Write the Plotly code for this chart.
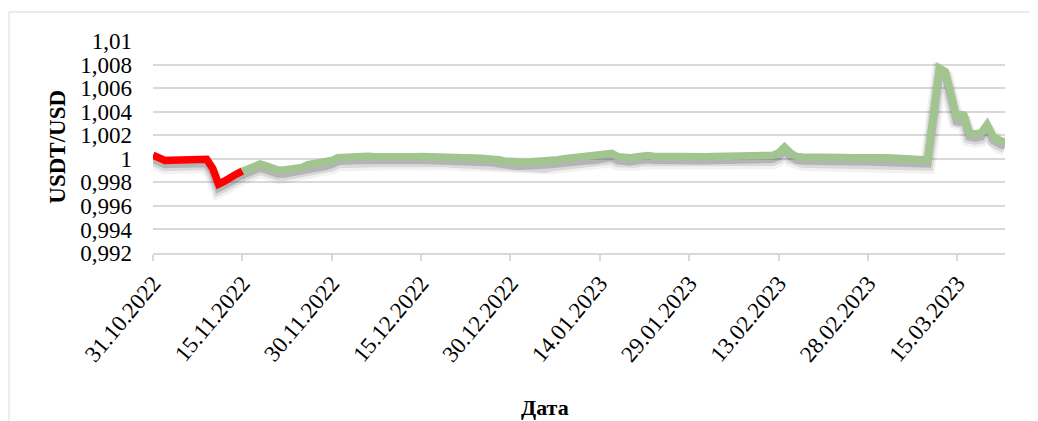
import pandas as pd
import plotly.graph_objects as go

start_date = "2022-10-31"
end_date = "2023-03-23"

red_values = [1.0003, 1.0000, 0.99985, 0.99988, 0.9999, 0.99995, 1.0000, 1.0000,
              1.0000, 0.99995, 0.9992, 0.99785, 0.9981, 0.99845, 0.9987, 0.99895]

green_values = [
    0.99895, 0.9992, 0.99935, 0.99955, 0.9994, 0.99915, 0.99905, 0.99905, 0.99912, 0.9992,
    0.99927, 0.9995, 0.99955, 0.9996, 0.9997, 0.99985, 1.0001, 1.00015, 1.0002, 1.0002,
    1.00025, 1.00022, 1.0002, 1.00018, 1.0002, 1.0002, 1.00015, 1.00018, 1.0002, 1.00017,
    1.0002, 1.0002, 1.00019, 1.00022, 1.0002, 1.00015, 1.00012, 1.0001, 1.00008, 1.00007,
    1.00005, 1.00003, 1.0, 0.99992, 0.9998, 0.99972, 0.9997, 0.9997, 0.99972, 0.99975,
    0.99972, 0.9997, 0.99985, 0.99992, 1.0, 1.00005, 1.0001, 1.00012, 1.00018, 1.0002,
    1.00025, 1.0003, 1.00045, 1.00018, 1.0001, 1.00008, 1.00015, 1.00027, 1.00027, 1.00022,
    1.0002, 1.00018, 1.0002, 1.00013, 1.00015, 1.0002, 1.00015, 1.0002, 1.00018, 1.0002,
    1.0002, 1.00022, 1.0002, 1.0002, 1.00022, 1.0002, 1.0002, 1.00022, 1.00025, 1.0003,
    1.0005, 1.0010, 1.0005, 1.0002, 1.00015, 1.00012, 1.0001, 1.0001, 1.00012, 1.0001,
    1.00008, 1.0001, 1.00008, 1.0001, 1.00008, 1.0001, 1.00008, 1.0001, 1.00008, 1.00006,
    1.00005, 1.00005, 1.0, 0.99995, 0.99992, 0.9999, 1.0038, 1.0077, 1.0074, 1.0055,
    1.0033, 1.0039, 1.0022, 1.0021, 1.0022, 1.0029, 1.0019, 1.0016, 1.0014,
]

x_tick_labels = ["31.10.2022", "15.11.2022", "30.11.2022", "15.12.2022", "30.12.2022",
                 "14.01.2023", "29.01.2023", "13.02.2023", "28.02.2023", "15.03.2023"]
y_tick_values = [0.992, 0.994, 0.996, 0.998, 1.0, 1.002, 1.004, 1.006, 1.008, 1.01]
y_tick_labels = ["0,992", "0,994", "0,996", "0,998", "1", "1,002", "1,004", "1,006", "1,008", "1,01"]

all_dates = pd.date_range(start_date, end_date, freq="D")
red_dates = all_dates[:len(red_values)]
green_dates = all_dates[len(red_values) - 1:len(red_values) - 1 + len(green_values)]
x_tick_dates = pd.to_datetime(x_tick_labels, format="%d.%m.%Y")

FONT = "'Liberation Serif', 'Times New Roman', Times, serif"
fig = go.Figure()

# soft drop shadow (Excel outer shadow) derived from the data
def add_shadow(dates, values):
    for off, w, a in [(0.0005, 16, 0.05), (0.0004, 12, 0.10), (0.00032, 8, 0.17)]:
        fig.add_trace(go.Scatter(x=dates, y=[v - off for v in values], mode="lines",
                                 line=dict(color=f"rgba(0,0,0,{a})", width=w),
                                 hoverinfo="skip", showlegend=False))

add_shadow(green_dates, green_values)
add_shadow(red_dates, red_values)

fig.add_trace(go.Scatter(x=green_dates, y=green_values, mode="lines",
                         line=dict(color="#A0C58E", width=7.5), showlegend=False))
fig.add_trace(go.Scatter(x=red_dates, y=red_values, mode="lines",
                         line=dict(color="#FF0000", width=7.5), showlegend=False))

# page has an 8px body margin, so margins are offset to place the plot area as in the reference
fig.update_layout(
    width=1038, height=421,
    margin=dict(l=145, r=41, t=33, b=176),
    paper_bgcolor="white", plot_bgcolor="white",
    font=dict(family=FONT, size=23, color="black"),
    xaxis=dict(type="date", range=[start_date, end_date],
               tickvals=x_tick_dates, ticktext=x_tick_labels, tickangle=-50,
               showgrid=False, zeroline=False,
               showline=True, linecolor="#D9D9D9", linewidth=1.5,
               ticks="outside", ticklen=6, tickcolor="#D9D9D9", tickwidth=1.5,
               tickfont=dict(family=FONT, size=23, color="black")),
    yaxis=dict(range=[0.992, 1.01], tickvals=y_tick_values, ticktext=y_tick_labels,
               showgrid=True, gridcolor="#D9D9D9", gridwidth=1.5, zeroline=False,
               showline=False, ticks="", ticklabelstandoff=20,
               tickfont=dict(family=FONT, size=23, color="black")),
    annotations=[
        dict(text="<b>USDT/USD</b>", xref="paper", yref="paper", x=-0.113, y=0.5,
             textangle=-90, showarrow=False, xanchor="center", yanchor="middle",
             font=dict(family=FONT, size=23, color="black")),
        dict(text="<b>Дата</b>", xref="paper", yref="paper", x=0.46, y=-0.731,
             showarrow=False, xanchor="center", yanchor="middle",
             font=dict(family=FONT, size=22, color="black")),
    ],
    shapes=[dict(type="rect", xref="paper", yref="paper",
                 x0=(9 - 153) / 852, x1=(1031 - 153) / 852,
                 y0=(253 - 440) / 212, y1=(253 - 12) / 212,
                 line=dict(color="#D9D9D9", width=1), fillcolor="rgba(0,0,0,0)", layer="below")],
)

fig.write_html("out.html")
